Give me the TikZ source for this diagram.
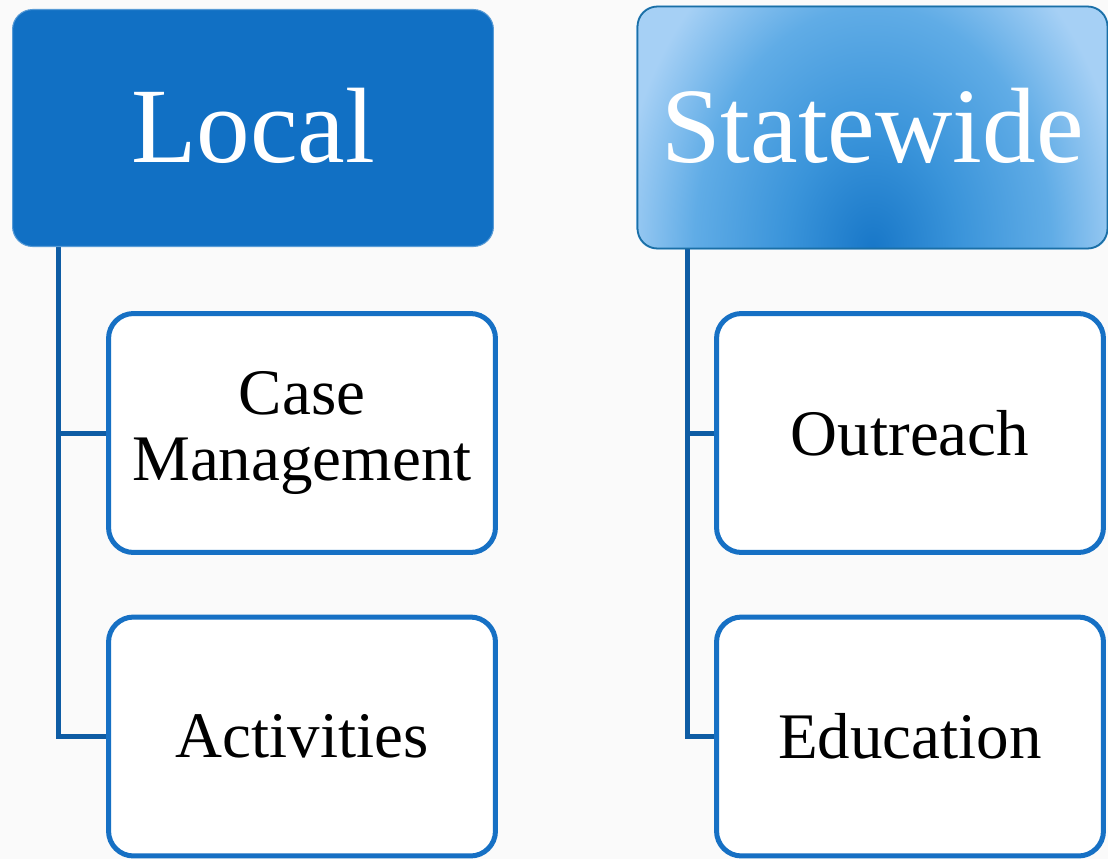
\documentclass[tikz,border=0pt]{standalone}
\usepackage{fontspec}
\setmainfont{Liberation Serif}
\usepackage{tikz}
\usetikzlibrary{backgrounds}

\definecolor{localblue}{HTML}{1170C4}
\definecolor{boxblue}{HTML}{1670C4}
\definecolor{linkblue}{HTML}{0E5CA4}
\definecolor{swborder}{HTML}{1A6FA6}
\definecolor{swdark}{HTML}{1877C8}
\definecolor{swmid}{HTML}{3A94DA}
\definecolor{swlight}{HTML}{60ACE6}
\definecolor{swpale}{HTML}{A6D0F5}
\definecolor{paper}{HTML}{FAFAFA}

\pgfdeclareradialshading{statewideshade}{\pgfpoint{0bp}{0bp}}{%
  color(0bp)=(swdark); color(8.5bp)=(swmid); color(17.5bp)=(swlight);
  color(25bp)=(swpale); color(50bp)=(swpale)}

\tikzset{
  headbox/.style={shape=rectangle, rounded corners=0.4cm, text=white,
    font=\fontsize{61}{70}\selectfont},
  itembox/.style={shape=rectangle, rounded corners=0.5cm, draw=boxblue,
    line width=0.1cm, fill=white, minimum width=7.74cm, minimum height=4.78cm,
    align=center, font=\fontsize{37}{38}\selectfont},
  connector/.style={draw=linkblue, line width=0.1cm}
}

\begin{document}
\begin{tikzpicture}[x=0.02cm, y=-0.02cm]
\useasboundingbox (0,0) rectangle (1108,859);

\node[fill=localblue] (local) at (253,128) [headbox, draw=localblue!70!white, line width=0.6pt,
  minimum width=9.62cm, minimum height=4.74cm] {\raisebox{3pt}{Local}};
\node (state) at (872.5,127.5) [headbox, draw=swborder, line width=1pt,
  minimum width=9.4cm, minimum height=4.84cm] {\raisebox{3pt}{Statewide}};

\node (case) at (302,433) [itembox] {Case\\Management};
\node (act) at (302,736.5) [itembox] {Activities};
\node (out) at (910,433) [itembox] {Outreach};
\node (edu) at (910,736.5) [itembox] {Education};

\coordinate (lroot) at (58,247);
\coordinate (sroot) at (687,249);

\begin{scope}[on background layer]
\fill[paper] (0,0) rectangle (1108,859);
% glow behind the statewide heading
\begin{scope}
\clip[rounded corners=0.4cm] (state.south west) rectangle (state.north east);
\shade[shading=statewideshade] (state.south) ++(-255,-347) rectangle ++(510,694);
\end{scope}
\draw[connector] (lroot) |- (act.west);
\draw[connector] (lroot |- case.west) -- (case.west);
\draw[connector] (sroot) |- (edu.west);
\draw[connector] (sroot |- out.west) -- (out.west);
\end{scope}
\end{tikzpicture}
\end{document}
